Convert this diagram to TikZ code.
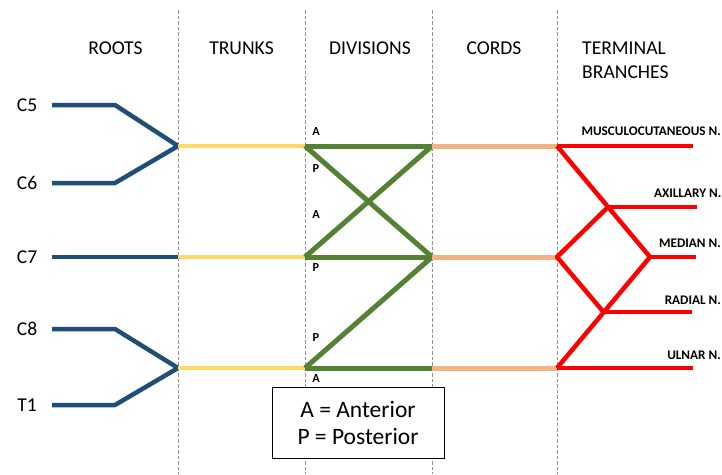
\documentclass[tikz,border=0pt]{standalone}
\usepackage{fontspec}
\setmainfont{Carlito}
\definecolor{rootc}{HTML}{1F4E79}
\definecolor{trunkc}{HTML}{FFD966}
\definecolor{divc}{HTML}{548235}
\definecolor{cordc}{HTML}{F4B183}
\definecolor{termc}{HTML}{FF0000}
\begin{document}
\begin{tikzpicture}[x=1pt,y=-1pt,
  sep/.style={draw=gray!85, line width=0.9pt, dash pattern=on 3.5pt off 2pt},
  head/.style={font=\fontsize{19.6}{24}\selectfont, align=center, inner sep=0pt},
  rootlab/.style={font=\fontsize{19.6}{24}\selectfont, inner sep=0pt},
  rootline/.style={draw=rootc, line width=4.5pt, line join=round},
  trunkline/.style={draw=trunkc, line width=4.5pt},
  divline/.style={draw=divc, line width=5pt, line join=round},
  cordline/.style={draw=cordc, line width=5pt},
  termline/.style={draw=termc, line width=4.5pt, line join=round},
  aplab/.style={font=\bfseries\fontsize{12.3}{14}\selectfont, inner sep=0pt},
  termlab/.style={font=\bfseries\fontsize{13.2}{15}\selectfont, inner sep=0pt},
  keybox/.style={draw=black, line width=0.7pt, fill=white, font=\fontsize{23.5}{27}\selectfont, align=center, minimum width=172pt, minimum height=71pt, inner sep=0pt}
]
\useasboundingbox (0,0) rectangle (722,474);
% column separators
\foreach \x/\n in {178/s1,305/s2,432/s3,557/s4}{
  \coordinate (\n t) at (\x,10);
  \coordinate (\n b) at (\x,474);
  \draw[sep] (\n t) -- (\n b);
}
% headers
\node[head] (hroots) at (115.5,48) {ROOTS};
\node[head] (htrunks) at (241.5,48) {TRUNKS};
\node[head] (hdiv) at (370,48) {DIVISIONS};
\node[head] (hcords) at (494,48) {CORDS};
\node[head, align=left, anchor=west] (hterm) at (582,60.5) {TERMINAL\\[0pt]BRANCHES};
% root labels
\node[rootlab] (lc5) at (27,105) {C5};
\node[rootlab] (lc6) at (27,183) {C6};
\node[rootlab] (lc7) at (27,257) {C7};
\node[rootlab] (lc8) at (27,329) {C8};
\node[rootlab] (lt1) at (27,405) {T1};
% coordinates
\coordinate (c5a) at (52,105); \coordinate (c5b) at (115,105);
\coordinate (c6a) at (52,183); \coordinate (c6b) at (115,183);
\coordinate (c7a) at (52,257);
\coordinate (c8a) at (52,329); \coordinate (c8b) at (115,329);
\coordinate (t1a) at (52,405); \coordinate (t1b) at (115,405);
\coordinate (u1) at (178,146); \coordinate (m1) at (178,257); \coordinate (l1) at (178,368);
\coordinate (u2) at (305,146); \coordinate (m2) at (305,257); \coordinate (l2) at (305,368);
\coordinate (u3) at (432,146); \coordinate (m3) at (432,257); \coordinate (l3) at (432,368);
\coordinate (u4) at (557,146); \coordinate (m4) at (557,257); \coordinate (l4) at (557,368);
% roots
\draw[rootline] (c5a) -- (c5b) -- (u1) -- (c6b) -- (c6a);
\draw[rootline] (c7a) -- (m1);
\draw[rootline] (c8a) -- (c8b) -- (l1) -- (t1b) -- (t1a);
% trunks
\draw[trunkline] (u1) -- (u2);
\draw[trunkline] (m1) -- (m2);
\draw[trunkline] (l1) -- (l2);
% divisions
\draw[divline] (u2) -- (u3);
\draw[divline] (m2) -- (m3);
\draw[divline] (l2) -- (l3);
\draw[divline] (u2) -- (m3);
\draw[divline] (m2) -- (u3);
\draw[divline] (l2) -- (m3);
% cords
\draw[cordline] (u3) -- (u4);
\draw[cordline] (m3) -- (m4);
\draw[cordline] (l3) -- (l4);
% terminal branches
\coordinate (jax) at (608,207);
\coordinate (jmed) at (650,257);
\coordinate (jrad) at (603.5,312);
\coordinate (emus) at (693,146);
\coordinate (eax) at (697,207);
\coordinate (emed) at (696,257);
\coordinate (erad) at (692,312);
\coordinate (euln) at (693,368);
\draw[termline] (u4) -- (jmed) -- (l4);
\draw[termline] (jax) -- (m4) -- (jrad);
\draw[termline] (u4) -- (emus);
\draw[termline] (jax) -- (eax);
\draw[termline] (jmed) -- (emed);
\draw[termline] (jrad) -- (erad);
\draw[termline] (l4) -- (euln);
% terminal labels
\node[termlab, anchor=east] (tmus) at (721,131) {MUSCULOCUTANEOUS N.};
\node[termlab, anchor=east] (tax) at (721.5,193) {AXILLARY N.};
\node[termlab, anchor=east] (tmed) at (721,243) {MEDIAN N.};
\node[termlab, anchor=east] (trad) at (721,300) {RADIAL N.};
\node[termlab, anchor=east] (tuln) at (721,355) {ULNAR N.};
% A/P labels
\node[aplab] (a1) at (316,132) {A};
\node[aplab] (p1) at (316,169) {P};
\node[aplab] (a2) at (316,215) {A};
\node[aplab] (p2) at (316,268) {P};
\node[aplab] (p3) at (316,338) {P};
\node[aplab] (a3) at (316,379) {A};
% key
\node[keybox] (key) at (358,422.5) {A = Anterior\\[0pt]P = Posterior};
\end{tikzpicture}
\end{document}
